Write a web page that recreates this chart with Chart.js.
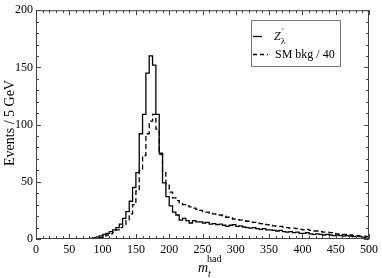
<!DOCTYPE html>
<html>
<head>
<meta charset="utf-8">
<script src="https://cdn.jsdelivr.net/npm/chart.js@4/dist/chart.umd.min.js"></script>
<style>
  html, body { margin: 0; padding: 0; background: #fff; }
  #wrap { width: 382px; height: 278px; position: relative; }
</style>
</head>
<body>
<div id="wrap"><canvas id="myChart"></canvas></div>
<script>
// histogram bins of 5 GeV, from 0 to 500
const binWidth = 5;
const binLow = Array.from({length: 100}, (_, i) => i * binWidth);

// Z'_lambda signal, events per bin
const signal = [
  0, 0, 0, 0, 0, 0, 0, 0, 0, 0,
  0, 0, 0, 0, 0, 0.3, 0.6, 1, 1.7, 2.8,
  4, 5, 6.5, 8, 10, 13, 18, 24, 33, 45,
  58, 92, 109, 145, 160, 152, 109, 75, 49, 37,
  29, 23.5, 21, 16.5, 18, 16, 14, 16, 15, 15,
  14, 14.5, 13, 13.5, 12.5, 13, 12, 11, 12, 12.5,
  11, 11.5, 10.5, 10, 9.5, 10, 9, 8.5, 9, 8,
  8, 7.5, 7, 7.5, 6.5, 6, 6.5, 5.5, 6, 5,
  5, 5.5, 4.5, 4, 4.5, 4, 3.5, 4, 3.5, 3,
  3.5, 3, 2.5, 3, 2.5, 2, 2.5, 2, 1.5, 2
];

// SM background divided by 40
const smBkg = [
  0, 0, 0, 0, 0, 0, 0, 0, 0, 0,
  0, 0, 0, 0, 0, 0, 0.3, 0.6, 1, 1.5,
  2.5, 3.5, 4.5, 6, 8, 10, 13, 17, 22, 30,
  42, 60, 73, 92, 103, 109, 96, 74, 58, 48,
  41, 36, 33.5, 31.5, 30, 29, 28, 27, 26, 25,
  24, 23.5, 22.5, 22, 21.5, 21, 20, 19, 18.5, 17.5,
  17, 16.5, 16, 15.5, 15, 14.5, 14, 13.5, 13, 12.5,
  12, 11.5, 11, 11, 10.5, 10, 9.5, 9.5, 9, 8.5,
  8, 8.5, 7.5, 7, 7, 6.5, 6, 6, 5.5, 5,
  4.5, 4.5, 4, 4, 3.5, 3, 3, 2.5, 2.5, 2
];

const xTicks = [0, 50, 100, 150, 200, 250, 300, 350, 400, 450, 500];
const yTicks = [0, 50, 100, 150, 200];

const serif = '"Liberation Serif", "DejaVu Serif", serif';

// step points: one per bin low edge plus the closing edge
function steps(values) {
  const pts = binLow.map((x, i) => ({x: x, y: values[i]}));
  pts.push({x: binLow[binLow.length - 1] + binWidth, y: values[values.length - 1]});
  return pts;
}

function line(ctx, x1, y1, x2, y2) {
  ctx.beginPath();
  ctx.moveTo(x1, y1);
  ctx.lineTo(x2, y2);
  ctx.stroke();
}

// frame with inward ticks on all sides, axis titles and legend box
const framePlugin = {
  id: 'frame',
  afterDraw(chart) {
    const {ctx, chartArea: a, scales: {x, y}} = chart;
    ctx.save();
    ctx.strokeStyle = '#444';
    ctx.lineWidth = 1;
    ctx.strokeRect(a.left + 0.5, a.top + 0.5, a.right - a.left - 1, a.bottom - a.top - 1);

    for (let v = xTicks[0]; v <= xTicks[xTicks.length - 1]; v += 10) {
      const px = Math.round(x.getPixelForValue(v)) + 0.5;
      const len = xTicks.includes(v) ? 5 : 3;
      line(ctx, px, a.bottom, px, a.bottom - len);
      line(ctx, px, a.top, px, a.top + len);
    }
    for (let v = yTicks[0]; v <= yTicks[yTicks.length - 1]; v += 10) {
      const py = Math.round(y.getPixelForValue(v)) + 0.5;
      const len = yTicks.includes(v) ? 5 : 3;
      line(ctx, a.left, py, a.left + len, py);
      line(ctx, a.right, py, a.right - len, py);
    }

    // y title
    ctx.fillStyle = '#000';
    ctx.save();
    ctx.translate(10, 123);
    ctx.rotate(-Math.PI / 2);
    ctx.font = '14px ' + serif;
    ctx.textAlign = 'center';
    ctx.textBaseline = 'middle';
    ctx.fillText('Events / 5 GeV', 0, 0);
    ctx.restore();

    // x title m_t^had
    ctx.textAlign = 'left';
    ctx.textBaseline = 'alphabetic';
    ctx.font = 'italic 14px ' + serif;
    ctx.fillText('m', 198, 272);
    ctx.font = '10px ' + serif;
    ctx.fillText('had', 207, 262);
    ctx.font = 'italic 10px ' + serif;
    ctx.fillText('t', 208, 277);

    // legend
    ctx.strokeStyle = '#777';
    ctx.strokeRect(251.5, 20.5, 89, 46);
    ctx.strokeStyle = '#000';
    ctx.lineWidth = 1.3;
    line(ctx, 253, 36.5, 262, 36.5);
    ctx.setLineDash([4, 3]);
    line(ctx, 253, 54.5, 268, 54.5);
    ctx.setLineDash([]);
    ctx.font = 'italic 12px ' + serif;
    ctx.fillText('Z', 274, 40);
    ctx.font = '9px ' + serif;
    ctx.fillText('\u2032', 282, 34);
    ctx.fillText('\u03bb', 281, 44);
    ctx.font = '12px ' + serif;
    ctx.fillText('SM bkg / 40', 275, 58);
    ctx.restore();
  }
};

const config = {
  type: 'line',
  data: {
    datasets: [{
      label: "Z'λ",
      data: steps(signal),
      stepped: 'before',
      borderColor: '#000',
      borderWidth: 1.3,
      pointRadius: 0,
      fill: false
    }, {
      label: 'SM bkg / 40',
      data: steps(smBkg),
      stepped: 'before',
      borderColor: '#000',
      borderWidth: 1.3,
      borderDash: [5, 3],
      pointRadius: 0,
      fill: false
    }]
  },
  options: {
    responsive: true,
    maintainAspectRatio: false,
    animation: false,
    layout: { padding: { left: 0, right: 11, top: 5, bottom: 0 } },
    plugins: { legend: { display: false }, tooltip: { enabled: false } },
    scales: {
      x: {
        type: 'linear',
        min: xTicks[0],
        max: xTicks[xTicks.length - 1],
        afterFit: s => { s.height = 39; },
        afterBuildTicks: s => { s.ticks = xTicks.map(v => ({value: v})); },
        grid: { display: false, drawTicks: false },
        border: { display: false },
        ticks: { color: '#000', padding: 4, maxRotation: 0, font: { family: serif, size: 12 } }
      },
      y: {
        min: yTicks[0],
        max: yTicks[yTicks.length - 1],
        afterFit: s => { s.width = 36; },
        afterBuildTicks: s => { s.ticks = yTicks.map(v => ({value: v})); },
        grid: { display: false, drawTicks: false },
        border: { display: false },
        ticks: { color: '#000', padding: 3, font: { family: serif, size: 12 } }
      }
    }
  },
  plugins: [framePlugin]
};

const myChart = new Chart(document.getElementById('myChart'), config);
</script>
</body>
</html>
